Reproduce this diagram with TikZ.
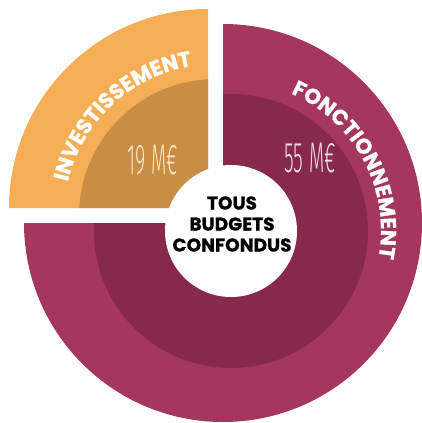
\documentclass[tikz,border=0pt]{standalone}
\usepackage{fontspec}
\usetikzlibrary{decorations.text,calc}
\newfontfamily\popf{Poppins}[BoldFeatures={FakeBold=0.8}]
\newfontfamily\thinf{Fira Sans Light}[FakeStretch=0.46]
\definecolor{crim}{HTML}{A5365D}
\definecolor{crimdark}{HTML}{86294B}
\definecolor{orng}{HTML}{F6AE56}
\definecolor{orngdark}{HTML}{C98D44}
\definecolor{creamtxt}{HTML}{F6E6CC}
\definecolor{pinktxt}{HTML}{F3DDE5}
\tikzset{
  arclabel/.style={decorate, decoration={text along path, text align=center, text color=white,
    text={|\popf\bfseries\fontsize{21.5}{21}\selectfont|#1}}},
  amount/.style={font=\thinf\fontsize{43}{43}\selectfont, inner sep=0pt},
  centerlabel/.style={font=\popf\bfseries\fontsize{18.5}{21}\selectfont, align=center, inner sep=0pt}
}
\begin{document}
\begin{tikzpicture}[x=1pt,y=1pt]
\useasboundingbox (0,0) rectangle (422,-423);
\coordinate (cc) at (223,-223);
\coordinate (ci) at (231,-231);
\coordinate (oc) at (208,-208);
\coordinate (oi) at (216,-216);
% crimson three-quarter ring
\begin{scope}
  \clip (cc) -- ++(90:199) arc[start angle=90,end angle=-180,radius=199] -- cycle;
  \fill[crim] (0,0) rectangle (422,-423);
  \fill[crimdark] (ci) circle[radius=137];
\end{scope}
% orange quarter
\begin{scope}
  \clip (oc) -- ++(90:199) arc[start angle=90,end angle=180,radius=199] -- cycle;
  \fill[orng] (0,0) rectangle (422,-423);
  \fill[orngdark] (oi) circle[radius=137];
\end{scope}
% white centre
\fill[white] (ci) circle[radius=66];
% curved labels
\path[arclabel=INVESTISSEMENT] ($(oi)+(198:152)$) arc[start angle=198,end angle=68,radius=152];
\path[arclabel=FONCTIONNEMENT] ($(ci)+(100:150)$) arc[start angle=100,end angle=-44,radius=150];
% amounts
\node[amount, text=creamtxt] (inv) at (153,-160) {19 M€};
\node[amount, text=pinktxt] (fon) at (310,-158) {55 M€};
% centre text
\node[centerlabel] (tb) at (232,-224) {TOUS\\BUDGETS\\CONFONDUS};
\end{tikzpicture}
\end{document}
